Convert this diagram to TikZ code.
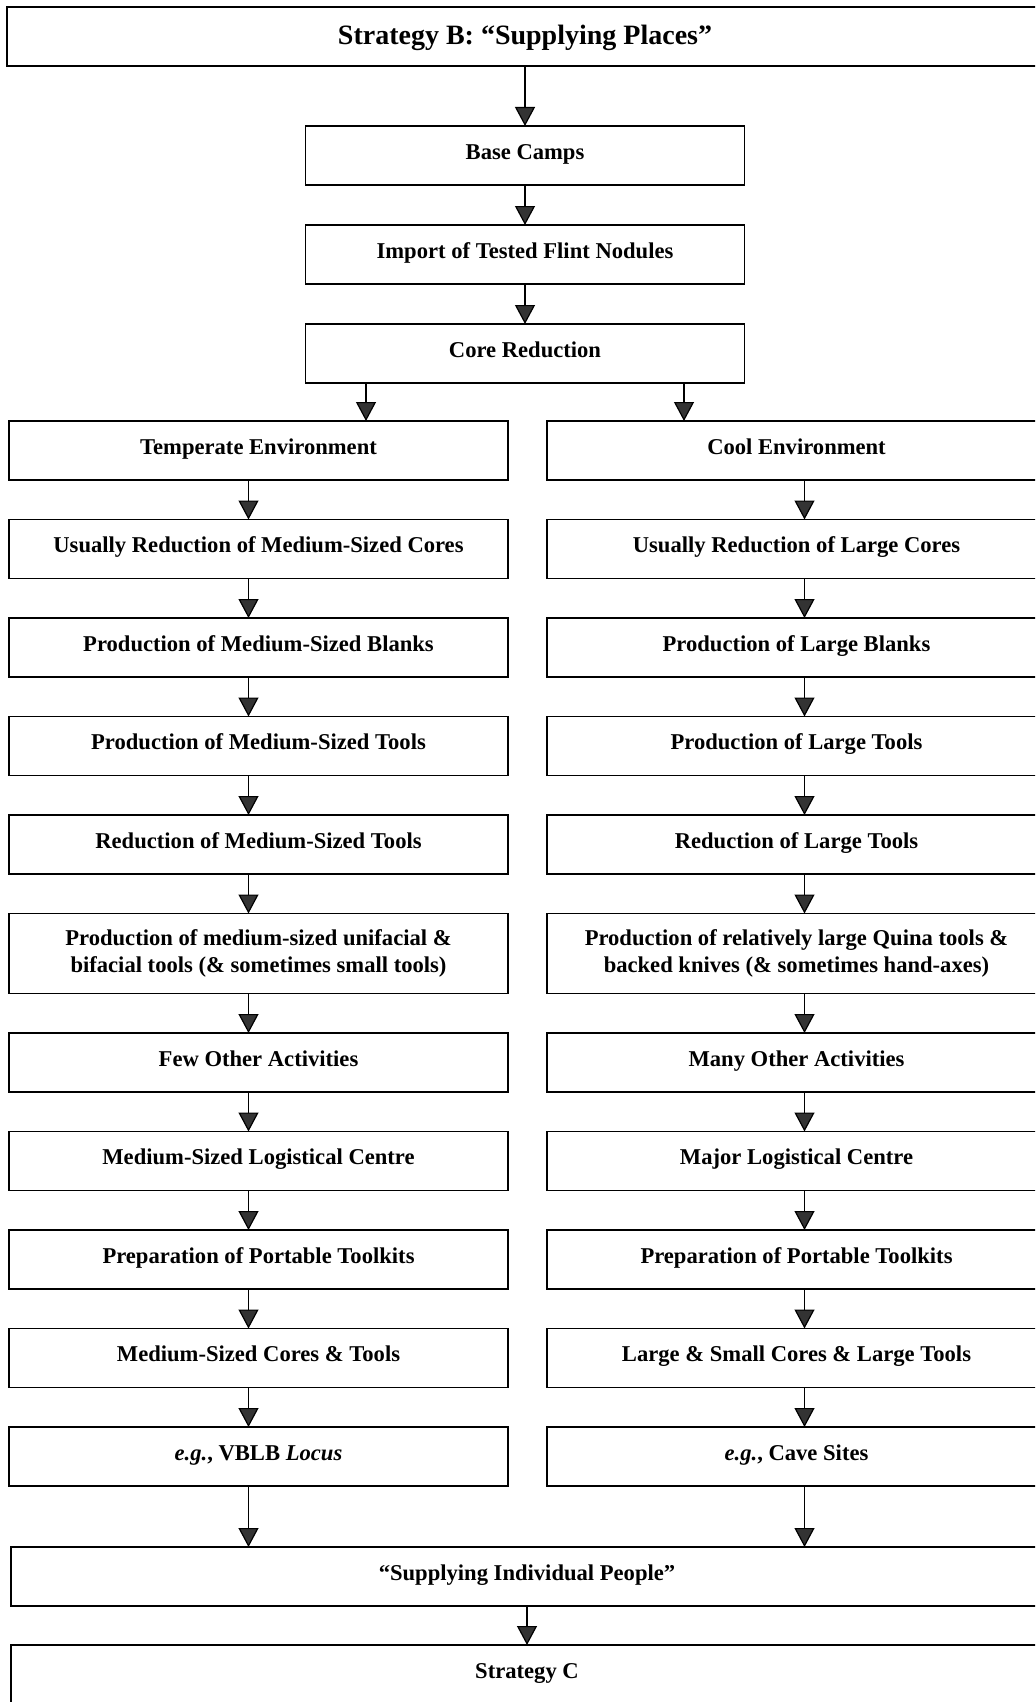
\documentclass[tikz,border=0pt]{standalone}
\usepackage{fontspec}
\setmainfont{Liberation Serif}
\usepackage{tikz}
\usetikzlibrary{arrows.meta, positioning}
\tikzset{
  box/.style={rectangle, minimum width=249.5pt, minimum height=29.5pt, outer sep=0pt, align=center, draw=black, line width=0.8pt, text height=7.7pt, text depth=4pt, font=\bfseries\fontsize{11.3}{13.5}\selectfont},
  twoline/.style={box, minimum height=40pt, text height=, text depth=},
  midbox/.style={box, minimum width=219.5pt},
  widebox/.style={box, minimum width=516pt},
  arrow/.style={line width=0.6pt, -{Triangle[width=10pt,length=9.5pt,fill=black!80]}},
  leftcol/.style={arrow, transform canvas={xshift=-5pt}},
  rightcol/.style={arrow, transform canvas={xshift=4pt}}
}

\begin{document}
\begin{tikzpicture}[node distance=19.75pt]
        \clip (0,0) rectangle (517.5pt,-851pt);
        % Nodes
        \node (title) [widebox, minimum width=518pt, text height=9.5pt, text depth=1.7pt, font=\bfseries\fontsize{14}{16}\selectfont] at (262.5pt,-18.25pt) {Strategy B: “Supplying Places”};
        \node (base_camps) [midbox, below=30pt of title] {Base Camps};
        \node (import_nodules) [midbox, below=20pt of base_camps] {Import of Tested Flint Nodules};
        \node (core_reduction) [midbox, below=20pt of import_nodules] {Core Reduction};

        % Temperate branch
        \node (temperate) [box] at (129.25pt,-225.25pt) {Temperate Environment};
        \node (medium_cores) [box, below=of temperate] {Usually Reduction of Medium-Sized Cores};
        \node (medium_blanks) [box, below=of medium_cores] {Production of Medium-Sized Blanks};
        \node (medium_tools) [box, below=of medium_blanks] {Production of Medium-Sized Tools};
        \node (medium_reduction) [box, below=of medium_tools] {Reduction of Medium-Sized Tools};
        \node (unifacial) [twoline, below=of medium_reduction] {Production of medium-sized unifacial \&\\ bifacial tools (\& sometimes small tools)};
        \node (few_activities) [box, below=of unifacial] {Few Other Activities};
        \node (medium_centre) [box, below=of few_activities] {Medium-Sized Logistical Centre};
        \node (toolkits_left) [box, below=of medium_centre] {Preparation of Portable Toolkits};
        \node (medium_kit) [box, below=of toolkits_left] {Medium-Sized Cores \& Tools};
        \node (eg_locus) [box, below=of medium_kit] {\textit{e.g.}, VBLB \textit{Locus}};

        % Cool branch
        \node (cool) [box, right=19.5pt of temperate] {Cool Environment};
        \node (large_cores) [box, below=of cool] {Usually Reduction of Large Cores};
        \node (large_blanks) [box, below=of large_cores] {Production of Large Blanks};
        \node (large_tools) [box, below=of large_blanks] {Production of Large Tools};
        \node (large_reduction) [box, below=of large_tools] {Reduction of Large Tools};
        \node (quina) [twoline, below=of large_reduction] {Production of relatively large Quina tools \&\\ backed knives (\& sometimes hand-axes)};
        \node (many_activities) [box, below=of quina] {Many Other Activities};
        \node (major_centre) [box, below=of many_activities] {Major Logistical Centre};
        \node (toolkits_right) [box, below=of major_centre] {Preparation of Portable Toolkits};
        \node (large_kit) [box, below=of toolkits_right] {Large \& Small Cores \& Large Tools};
        \node (eg_caves) [box, below=of large_kit] {\textit{e.g.}, Cave Sites};

        \node (supplying) [widebox, below=30.5pt of eg_locus, xshift=134.25pt] {“Supplying Individual People”};
        \node (strategy_c) [widebox, below=19.5pt of supplying] {Strategy C};

        % Paths
        \draw [arrow] (title) -- (base_camps);
        \draw [arrow] (base_camps) -- (import_nodules);
        \draw [arrow] (import_nodules) -- (core_reduction);
        \draw [arrow] ([xshift=-79.5pt]core_reduction.south) -- ([xshift=-79.5pt]core_reduction.south |- temperate.north);
        \draw [arrow] ([xshift=79.5pt]core_reduction.south) -- ([xshift=79.5pt]core_reduction.south |- cool.north);

        % Temperate chain
        \draw [leftcol] (temperate) -- (medium_cores);
        \draw [leftcol] (medium_cores) -- (medium_blanks);
        \draw [leftcol] (medium_blanks) -- (medium_tools);
        \draw [leftcol] (medium_tools) -- (medium_reduction);
        \draw [leftcol] (medium_reduction) -- (unifacial);
        \draw [leftcol] (unifacial) -- (few_activities);
        \draw [leftcol] (few_activities) -- (medium_centre);
        \draw [leftcol] (medium_centre) -- (toolkits_left);
        \draw [leftcol] (toolkits_left) -- (medium_kit);
        \draw [leftcol] (medium_kit) -- (eg_locus);
        \draw [leftcol] (eg_locus.south) -- (eg_locus.south |- supplying.north);

        % Cool chain
        \draw [rightcol] (cool) -- (large_cores);
        \draw [rightcol] (large_cores) -- (large_blanks);
        \draw [rightcol] (large_blanks) -- (large_tools);
        \draw [rightcol] (large_tools) -- (large_reduction);
        \draw [rightcol] (large_reduction) -- (quina);
        \draw [rightcol] (quina) -- (many_activities);
        \draw [rightcol] (many_activities) -- (major_centre);
        \draw [rightcol] (major_centre) -- (toolkits_right);
        \draw [rightcol] (toolkits_right) -- (large_kit);
        \draw [rightcol] (large_kit) -- (eg_caves);
        \draw [rightcol] (eg_caves.south) -- (eg_caves.south |- supplying.north);

        \draw [arrow] (supplying) -- (strategy_c);
\end{tikzpicture}
\end{document}
